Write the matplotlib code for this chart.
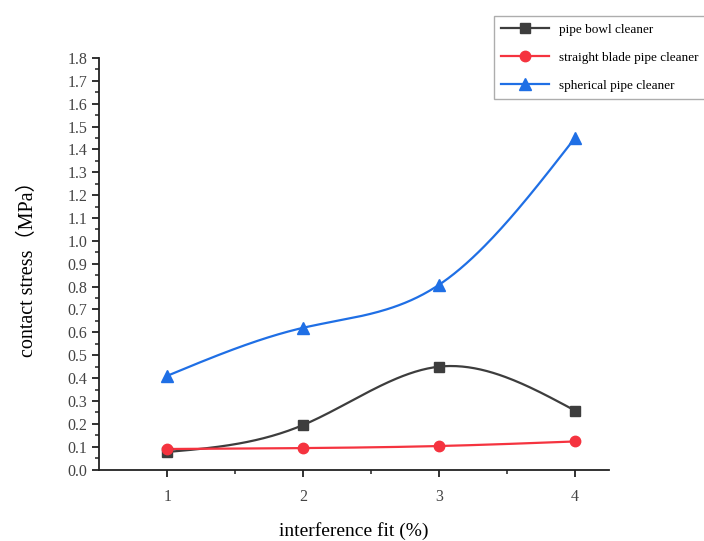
import numpy as np
import matplotlib
matplotlib.use("Agg")
import matplotlib.pyplot as plt
from matplotlib.ticker import MultipleLocator, FixedLocator
from matplotlib.lines import Line2D

# data
interference = [1, 2, 3, 4]
bowl_cleaner = [0.077, 0.195, 0.45, 0.258]
straight_blade = [0.09, 0.094, 0.103, 0.123]
spherical = [0.41, 0.62, 0.808, 1.45]

series_labels = ["pipe bowl cleaner", "straight blade pipe cleaner", "spherical pipe cleaner"]
series_colors = ["#3d3d3d", "#f5333f", "#1f6fe5"]
series_markers = ["s", "o", "^"]

plt.rcParams["font.family"] = ["Liberation Serif", "Noto Sans CJK SC", "DejaVu Sans"]


def natural_spline(x, y, n=200):
    # plain natural cubic spline, no scipy needed
    x = np.asarray(x, float)
    y = np.asarray(y, float)
    k = len(x)
    h = np.diff(x)
    A = np.zeros((k, k))
    b = np.zeros(k)
    A[0, 0] = A[-1, -1] = 1
    for i in range(1, k - 1):
        A[i, i - 1] = h[i - 1]
        A[i, i] = 2 * (h[i - 1] + h[i])
        A[i, i + 1] = h[i]
        b[i] = 6 * ((y[i + 1] - y[i]) / h[i] - (y[i] - y[i - 1]) / h[i - 1])
    m = np.linalg.solve(A, b)
    xs = np.linspace(x[0], x[-1], n)
    idx = np.clip(np.searchsorted(x, xs) - 1, 0, k - 2)
    x0, x1 = x[idx], x[idx + 1]
    hh = x1 - x0
    t0, t1 = x1 - xs, xs - x0
    ys = (m[idx] * t0 ** 3 + m[idx + 1] * t1 ** 3) / (6 * hh) \
        + (y[idx] / hh - m[idx] * hh / 6) * t0 + (y[idx + 1] / hh - m[idx + 1] * hh / 6) * t1
    return xs, ys


fig = plt.figure(figsize=(7.04, 5.41), dpi=100)
ax = fig.add_axes([0.141, 0.132, 0.724, 0.761])

handles = []
for vals, lab, col, mk in zip([bowl_cleaner, straight_blade, spherical],
                              series_labels, series_colors, series_markers):
    xs, ys = natural_spline(interference, vals)
    ax.plot(xs, ys, color=col, lw=1.6, zorder=2)
    ms = 8 if mk == "^" else 7.5
    ax.plot(interference, vals, linestyle="none", marker=mk, ms=ms, color=col, zorder=3)
    handles.append(Line2D([], [], color=col, lw=1.6, marker=mk, ms=ms, label=lab))

ax.set_xlim(0.5, 4.25)
ax.set_ylim(0, 1.8)
ax.xaxis.set_major_locator(FixedLocator(interference))
ax.xaxis.set_minor_locator(FixedLocator([1.5, 2.5, 3.5]))
ax.yaxis.set_major_locator(MultipleLocator(0.1))
ax.yaxis.set_minor_locator(MultipleLocator(0.05))
ax.yaxis.set_major_formatter(matplotlib.ticker.FuncFormatter(lambda v, p: "%.1f" % v))

for s in ["top", "right"]:
    ax.spines[s].set_visible(False)
for s in ["left", "bottom"]:
    ax.spines[s].set_linewidth(1.3)
    ax.spines[s].set_color("#222222")

ax.tick_params(which="major", length=5, width=1.3, labelsize=11.5, color="#222222", labelcolor="#444444")
ax.tick_params(which="minor", length=3, width=1.1, color="#222222")
ax.tick_params(axis="x", which="major", pad=9)

ax.set_xlabel("interference fit (%)", fontsize=14, labelpad=12.5)
ax.set_ylabel("contact stress（MPa）", fontsize=14.5, labelpad=21)

fig.legend(handles=handles, loc="upper left", bbox_to_anchor=(0.698, 0.975),
           fontsize=9.5, frameon=True, fancybox=False, edgecolor="#999999",
           handlelength=3.6, borderpad=0.55, labelspacing=1.2, handletextpad=0.8,
           borderaxespad=0.2)

fig.savefig("out.png", dpi=100)
